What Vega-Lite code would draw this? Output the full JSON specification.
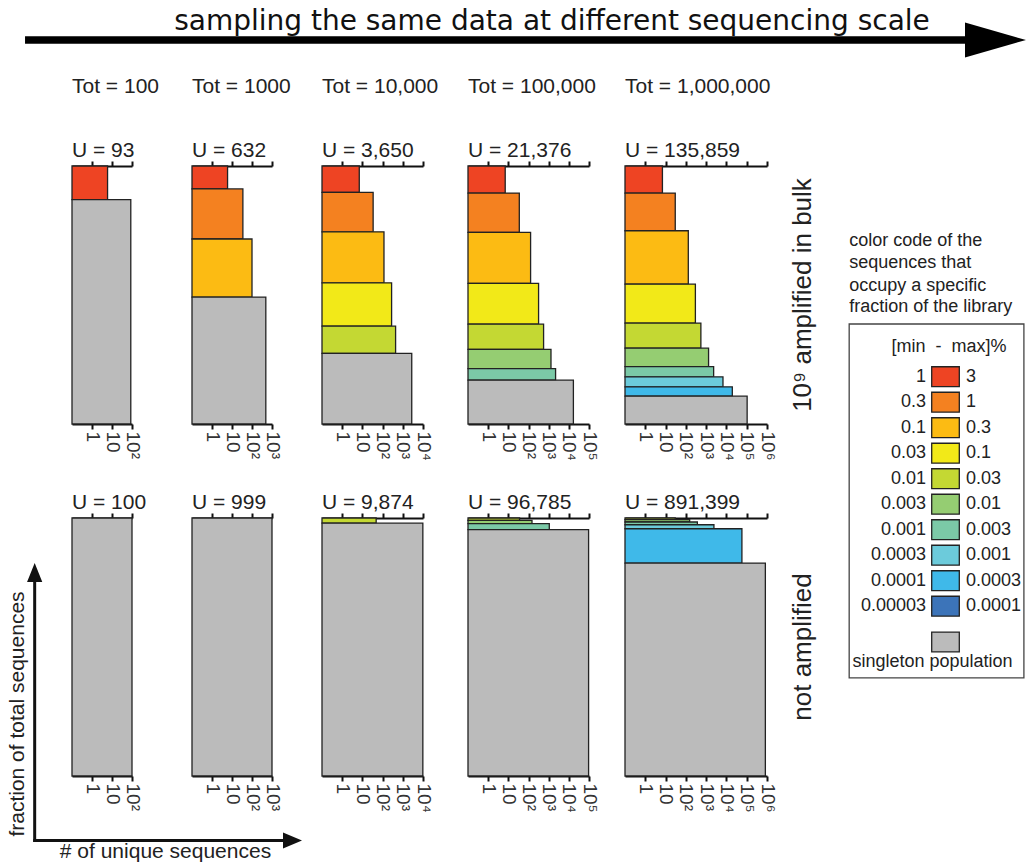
{
  "$schema": "https://vega.github.io/schema/vega-lite/v6.json",
  "padding": 0,
  "background": "white",
  "config": {
    "view": {"stroke": null},
    "font": "Liberation Sans",
    "title": {"anchor": "start", "frame": "group", "fontSize": 21, "fontWeight": "normal", "color": "#222", "font": "Liberation Sans", "subtitleFontSize": 21, "subtitleColor": "#222", "subtitleFont": "Liberation Sans", "subtitlePadding": 43, "offset": -1},
    "axis": {"domainColor": "#111", "domainWidth": 2, "tickColor": "#111", "tickWidth": 2, "tickSize": 5, "grid": false, "labelFontSize": 19, "labelColor": "#333", "labelFlush": false, "labelOverlap": false, "zindex": 1},
    "axisBottom": {"labelAngle": 90, "labelAlign": "left", "labelBaseline": "middle", "labelPadding": 2, "labelExpr": "datum.value < 2 ? '1' : datum.value < 20 ? '10' : '10' + ['', '', '²', '³', '⁴', '⁵', '⁶'][round(log(datum.value) / LN10)]"},
    "axisTop": {"labels": false}
  },
  "datasets": {
    "bars": [
      {"row": "bulk", "tot": 100, "cls": "1–3", "ord": 0, "n": 6, "frac": 0.13},
      {"row": "bulk", "tot": 100, "cls": "singleton", "ord": 10, "n": 87, "frac": 0.87},
      {"row": "bulk", "tot": 1000, "cls": "1–3", "ord": 0, "n": 6, "frac": 0.089},
      {"row": "bulk", "tot": 1000, "cls": "0.3–1", "ord": 1, "n": 35, "frac": 0.194},
      {"row": "bulk", "tot": 1000, "cls": "0.1–0.3", "ord": 2, "n": 100, "frac": 0.225},
      {"row": "bulk", "tot": 1000, "cls": "singleton", "ord": 10, "n": 491, "frac": 0.492},
      {"row": "bulk", "tot": 10000, "cls": "1–3", "ord": 0, "n": 7, "frac": 0.102},
      {"row": "bulk", "tot": 10000, "cls": "0.3–1", "ord": 1, "n": 34, "frac": 0.153},
      {"row": "bulk", "tot": 10000, "cls": "0.1–0.3", "ord": 2, "n": 117, "frac": 0.198},
      {"row": "bulk", "tot": 10000, "cls": "0.03–0.1", "ord": 3, "n": 279, "frac": 0.168},
      {"row": "bulk", "tot": 10000, "cls": "0.01–0.03", "ord": 4, "n": 440, "frac": 0.105},
      {"row": "bulk", "tot": 10000, "cls": "singleton", "ord": 10, "n": 2773, "frac": 0.274},
      {"row": "bulk", "tot": 100000, "cls": "1–3", "ord": 0, "n": 7, "frac": 0.105},
      {"row": "bulk", "tot": 100000, "cls": "0.3–1", "ord": 1, "n": 35, "frac": 0.152},
      {"row": "bulk", "tot": 100000, "cls": "0.1–0.3", "ord": 2, "n": 127, "frac": 0.198},
      {"row": "bulk", "tot": 100000, "cls": "0.03–0.1", "ord": 3, "n": 316, "frac": 0.158},
      {"row": "bulk", "tot": 100000, "cls": "0.01–0.03", "ord": 4, "n": 560, "frac": 0.098},
      {"row": "bulk", "tot": 100000, "cls": "0.003–0.01", "ord": 5, "n": 1303, "frac": 0.074},
      {"row": "bulk", "tot": 100000, "cls": "0.001–0.003", "ord": 6, "n": 2203, "frac": 0.045},
      {"row": "bulk", "tot": 100000, "cls": "singleton", "ord": 10, "n": 16825, "frac": 0.17},
      {"row": "bulk", "tot": 1000000, "cls": "1–3", "ord": 0, "n": 7, "frac": 0.105},
      {"row": "bulk", "tot": 1000000, "cls": "0.3–1", "ord": 1, "n": 30, "frac": 0.146},
      {"row": "bulk", "tot": 1000000, "cls": "0.1–0.3", "ord": 2, "n": 132, "frac": 0.207},
      {"row": "bulk", "tot": 1000000, "cls": "0.03–0.1", "ord": 3, "n": 295, "frac": 0.151},
      {"row": "bulk", "tot": 1000000, "cls": "0.01–0.03", "ord": 4, "n": 550, "frac": 0.097},
      {"row": "bulk", "tot": 1000000, "cls": "0.003–0.01", "ord": 5, "n": 1318, "frac": 0.072},
      {"row": "bulk", "tot": 1000000, "cls": "0.001–0.003", "ord": 6, "n": 2344, "frac": 0.039},
      {"row": "bulk", "tot": 1000000, "cls": "0.0003–0.001", "ord": 7, "n": 6761, "frac": 0.039},
      {"row": "bulk", "tot": 1000000, "cls": "0.0001–0.0003", "ord": 8, "n": 19500, "frac": 0.036},
      {"row": "bulk", "tot": 1000000, "cls": "singleton", "ord": 10, "n": 104922, "frac": 0.108},
      {"row": "none", "tot": 100, "cls": "singleton", "ord": 10, "n": 100, "frac": 1},
      {"row": "none", "tot": 1000, "cls": "singleton", "ord": 10, "n": 999, "frac": 1},
      {"row": "none", "tot": 10000, "cls": "0.01–0.03", "ord": 4, "n": 48, "frac": 0.02},
      {"row": "none", "tot": 10000, "cls": "singleton", "ord": 10, "n": 9826, "frac": 0.98},
      {"row": "none", "tot": 100000, "cls": "0.01–0.03", "ord": 4, "n": 36, "frac": 0.009},
      {"row": "none", "tot": 100000, "cls": "0.003–0.01", "ord": 5, "n": 149, "frac": 0.013},
      {"row": "none", "tot": 100000, "cls": "0.001–0.003", "ord": 6, "n": 1074, "frac": 0.023},
      {"row": "none", "tot": 100000, "cls": "singleton", "ord": 10, "n": 95526, "frac": 0.955},
      {"row": "none", "tot": 1000000, "cls": "0.01–0.03", "ord": 4, "n": 30, "frac": 0.0066},
      {"row": "none", "tot": 1000000, "cls": "0.003–0.01", "ord": 5, "n": 154, "frac": 0.009},
      {"row": "none", "tot": 1000000, "cls": "0.001–0.003", "ord": 6, "n": 369, "frac": 0.0105},
      {"row": "none", "tot": 1000000, "cls": "0.0003–0.001", "ord": 7, "n": 2421, "frac": 0.0155},
      {"row": "none", "tot": 1000000, "cls": "0.0001–0.0003", "ord": 8, "n": 58000, "frac": 0.133},
      {"row": "none", "tot": 1000000, "cls": "singleton", "ord": 10, "n": 830425, "frac": 0.8254}
    ],
    "legendRows": [
      {"cls": "1–3", "lo": "1", "hi": "3", "idx": 0},
      {"cls": "0.3–1", "lo": "0.3", "hi": "1", "idx": 1},
      {"cls": "0.1–0.3", "lo": "0.1", "hi": "0.3", "idx": 2},
      {"cls": "0.03–0.1", "lo": "0.03", "hi": "0.1", "idx": 3},
      {"cls": "0.01–0.03", "lo": "0.01", "hi": "0.03", "idx": 4},
      {"cls": "0.003–0.01", "lo": "0.003", "hi": "0.01", "idx": 5},
      {"cls": "0.001–0.003", "lo": "0.001", "hi": "0.003", "idx": 6},
      {"cls": "0.0003–0.001", "lo": "0.0003", "hi": "0.001", "idx": 7},
      {"cls": "0.0001–0.0003", "lo": "0.0001", "hi": "0.0003", "idx": 8},
      {"cls": "0.00003–0.0001", "lo": "0.00003", "hi": "0.0001", "idx": 9},
      {"cls": "singleton", "lo": "", "hi": "", "idx": 10.404}
    ]
  },
  "columns": 8,
  "spacing": 0,
  "bounds": "flush",
  "align": "each",
  "concat": [
    {
      "width": 72, "height": 166,
      "data": {"values": [
        {"part": "shaft", "x": 0.0244, "x2": 0.95, "y": 0.241},
        {"part": "head", "x": 0.9703, "y": 0.241},
        {"part": "text", "x": 0.538, "y": 0.1807, "t": "sampling the same data at different sequencing scale"}
      ]},
      "layer": [
        {"transform": [{"filter": "datum.part === 'shaft'"}],
         "mark": {"type": "rule", "strokeWidth": 7.5, "color": "#000"},
         "encoding": {
           "x": {"field": "x", "type": "quantitative", "scale": {"domain": [0, 1], "range": [0, 1026], "nice": false, "zero": false}, "axis": null},
           "x2": {"field": "x2"},
           "y": {"field": "y", "type": "quantitative", "scale": {"domain": [0, 1], "range": [0, 166], "nice": false, "zero": false}, "axis": null}}},
        {"transform": [{"filter": "datum.part === 'head'"}],
         "mark": {"type": "point", "shape": "M-1,-0.57L1,0L-1,0.57Z", "size": 3721, "filled": true, "color": "#000", "opacity": 1, "strokeWidth": 0},
         "encoding": {"x": {"field": "x", "type": "quantitative"}, "y": {"field": "y", "type": "quantitative"}}},
        {"transform": [{"filter": "datum.part === 'text'"}],
         "mark": {"type": "text", "font": "DejaVu Sans", "fontSize": 28, "align": "center", "baseline": "alphabetic", "color": "#111"},
         "encoding": {"x": {"field": "x", "type": "quantitative"}, "y": {"field": "y", "type": "quantitative"}, "text": {"field": "t"}}}
      ]
    },
    {"width": 20, "height": 20, "data": {"values": [{"t": ""}]}, "mark": "text", "encoding": {"text": {"field": "t"}}},
    {"width": 20, "height": 20, "data": {"values": [{"t": ""}]}, "mark": "text", "encoding": {"text": {"field": "t"}}},
    {"width": 20, "height": 20, "data": {"values": [{"t": ""}]}, "mark": "text", "encoding": {"text": {"field": "t"}}},
    {"width": 20, "height": 20, "data": {"values": [{"t": ""}]}, "mark": "text", "encoding": {"text": {"field": "t"}}},
    {"width": 20, "height": 20, "data": {"values": [{"t": ""}]}, "mark": "text", "encoding": {"text": {"field": "t"}}},
    {"width": 20, "height": 20, "data": {"values": [{"t": ""}]}, "mark": "text", "encoding": {"text": {"field": "t"}}},
    {"width": 20, "height": 20, "data": {"values": [{"t": ""}]}, "mark": "text", "encoding": {"text": {"field": "t"}}},

    {"width": 20, "height": 20, "data": {"values": [{"t": ""}]}, "mark": "text", "encoding": {"text": {"field": "t"}}},
    {
      "width": 60, "height": 258,
      "title": {"text": "Tot = 100", "subtitle": "U = 93"},
      "data": {"name": "bars"},
      "transform": [{"filter": "datum.row === 'bulk' && datum.tot === 100"}, {"stack": "frac", "groupby": [], "sort": [{"field": "ord", "order": "ascending"}], "as": ["f0", "f1"]}],
      "layer": [
        {"mark": {"type": "bar", "orient": "horizontal", "stroke": "#222", "strokeWidth": 1.3},
         "encoding": {
           "x": {"field": "n", "type": "quantitative", "stack": null, "scale": {"type": "log", "domain": [0.1, 100], "nice": false, "padding": 0}, "axis": {"orient": "bottom", "values": [1, 10, 100], "title": null}},
           "y": {"field": "f0", "type": "quantitative", "scale": {"domain": [0, 1], "reverse": true, "nice": false, "zero": false, "padding": 0}, "axis": null},
           "y2": {"field": "f1"},
           "fill": {"field": "cls", "type": "nominal", "legend": null, "scale": {"domain": ["1–3", "0.3–1", "0.1–0.3", "0.03–0.1", "0.01–0.03", "0.003–0.01", "0.001–0.003", "0.0003–0.001", "0.0001–0.0003", "0.00003–0.0001", "singleton"], "range": ["#ee4423", "#f48120", "#fcbb13", "#f2e918", "#c4d833", "#95cd72", "#7bc9a7", "#6ccbdb", "#3fb9e9", "#3c74b9", "#bbbbbb"]}}}},
        {"mark": {"type": "tick", "opacity": 0},
         "encoding": {"x": {"field": "n", "type": "quantitative", "axis": {"orient": "top", "values": [1, 10, 100], "title": null}}}}
      ],
      "resolve": {"axis": {"x": "independent"}}
    },
    {
      "width": 80, "height": 258,
      "title": {"text": "Tot = 1000", "subtitle": "U = 632"},
      "data": {"name": "bars"},
      "transform": [{"filter": "datum.row === 'bulk' && datum.tot === 1000"}, {"stack": "frac", "groupby": [], "sort": [{"field": "ord", "order": "ascending"}], "as": ["f0", "f1"]}],
      "layer": [
        {"mark": {"type": "bar", "orient": "horizontal", "stroke": "#222", "strokeWidth": 1.3},
         "encoding": {
           "x": {"field": "n", "type": "quantitative", "stack": null, "scale": {"type": "log", "domain": [0.1, 1000], "nice": false, "padding": 0}, "axis": {"orient": "bottom", "values": [1, 10, 100, 1000], "title": null}},
           "y": {"field": "f0", "type": "quantitative", "scale": {"domain": [0, 1], "reverse": true, "nice": false, "zero": false, "padding": 0}, "axis": null},
           "y2": {"field": "f1"},
           "fill": {"field": "cls", "type": "nominal", "legend": null, "scale": {"domain": ["1–3", "0.3–1", "0.1–0.3", "0.03–0.1", "0.01–0.03", "0.003–0.01", "0.001–0.003", "0.0003–0.001", "0.0001–0.0003", "0.00003–0.0001", "singleton"], "range": ["#ee4423", "#f48120", "#fcbb13", "#f2e918", "#c4d833", "#95cd72", "#7bc9a7", "#6ccbdb", "#3fb9e9", "#3c74b9", "#bbbbbb"]}}}},
        {"mark": {"type": "tick", "opacity": 0},
         "encoding": {"x": {"field": "n", "type": "quantitative", "axis": {"orient": "top", "values": [1, 10, 100, 1000], "title": null}}}}
      ],
      "resolve": {"axis": {"x": "independent"}}
    },
    {
      "width": 101, "height": 258,
      "title": {"text": "Tot = 10,000", "subtitle": "U = 3,650"},
      "data": {"name": "bars"},
      "transform": [{"filter": "datum.row === 'bulk' && datum.tot === 10000"}, {"stack": "frac", "groupby": [], "sort": [{"field": "ord", "order": "ascending"}], "as": ["f0", "f1"]}],
      "layer": [
        {"mark": {"type": "bar", "orient": "horizontal", "stroke": "#222", "strokeWidth": 1.3},
         "encoding": {
           "x": {"field": "n", "type": "quantitative", "stack": null, "scale": {"type": "log", "domain": [0.1, 10000], "nice": false, "padding": 0}, "axis": {"orient": "bottom", "values": [1, 10, 100, 1000, 10000], "title": null}},
           "y": {"field": "f0", "type": "quantitative", "scale": {"domain": [0, 1], "reverse": true, "nice": false, "zero": false, "padding": 0}, "axis": null},
           "y2": {"field": "f1"},
           "fill": {"field": "cls", "type": "nominal", "legend": null, "scale": {"domain": ["1–3", "0.3–1", "0.1–0.3", "0.03–0.1", "0.01–0.03", "0.003–0.01", "0.001–0.003", "0.0003–0.001", "0.0001–0.0003", "0.00003–0.0001", "singleton"], "range": ["#ee4423", "#f48120", "#fcbb13", "#f2e918", "#c4d833", "#95cd72", "#7bc9a7", "#6ccbdb", "#3fb9e9", "#3c74b9", "#bbbbbb"]}}}},
        {"mark": {"type": "tick", "opacity": 0},
         "encoding": {"x": {"field": "n", "type": "quantitative", "axis": {"orient": "top", "values": [1, 10, 100, 1000, 10000], "title": null}}}}
      ],
      "resolve": {"axis": {"x": "independent"}}
    },
    {
      "width": 121, "height": 258,
      "title": {"text": "Tot = 100,000", "subtitle": "U = 21,376"},
      "data": {"name": "bars"},
      "transform": [{"filter": "datum.row === 'bulk' && datum.tot === 100000"}, {"stack": "frac", "groupby": [], "sort": [{"field": "ord", "order": "ascending"}], "as": ["f0", "f1"]}],
      "layer": [
        {"mark": {"type": "bar", "orient": "horizontal", "stroke": "#222", "strokeWidth": 1.3},
         "encoding": {
           "x": {"field": "n", "type": "quantitative", "stack": null, "scale": {"type": "log", "domain": [0.1, 100000], "nice": false, "padding": 0}, "axis": {"orient": "bottom", "values": [1, 10, 100, 1000, 10000, 100000], "title": null}},
           "y": {"field": "f0", "type": "quantitative", "scale": {"domain": [0, 1], "reverse": true, "nice": false, "zero": false, "padding": 0}, "axis": null},
           "y2": {"field": "f1"},
           "fill": {"field": "cls", "type": "nominal", "legend": null, "scale": {"domain": ["1–3", "0.3–1", "0.1–0.3", "0.03–0.1", "0.01–0.03", "0.003–0.01", "0.001–0.003", "0.0003–0.001", "0.0001–0.0003", "0.00003–0.0001", "singleton"], "range": ["#ee4423", "#f48120", "#fcbb13", "#f2e918", "#c4d833", "#95cd72", "#7bc9a7", "#6ccbdb", "#3fb9e9", "#3c74b9", "#bbbbbb"]}}}},
        {"mark": {"type": "tick", "opacity": 0},
         "encoding": {"x": {"field": "n", "type": "quantitative", "axis": {"orient": "top", "values": [1, 10, 100, 1000, 10000, 100000], "title": null}}}}
      ],
      "resolve": {"axis": {"x": "independent"}}
    },
    {
      "width": 142, "height": 258,
      "title": {"text": "Tot = 1,000,000", "subtitle": "U = 135,859"},
      "data": {"name": "bars"},
      "transform": [{"filter": "datum.row === 'bulk' && datum.tot === 1000000"}, {"stack": "frac", "groupby": [], "sort": [{"field": "ord", "order": "ascending"}], "as": ["f0", "f1"]}],
      "layer": [
        {"mark": {"type": "bar", "orient": "horizontal", "stroke": "#222", "strokeWidth": 1.3},
         "encoding": {
           "x": {"field": "n", "type": "quantitative", "stack": null, "scale": {"type": "log", "domain": [0.1, 1000000], "nice": false, "padding": 0}, "axis": {"orient": "bottom", "values": [1, 10, 100, 1000, 10000, 100000, 1000000], "title": null}},
           "y": {"field": "f0", "type": "quantitative", "scale": {"domain": [0, 1], "reverse": true, "nice": false, "zero": false, "padding": 0}, "axis": null},
           "y2": {"field": "f1"},
           "fill": {"field": "cls", "type": "nominal", "legend": null, "scale": {"domain": ["1–3", "0.3–1", "0.1–0.3", "0.03–0.1", "0.01–0.03", "0.003–0.01", "0.001–0.003", "0.0003–0.001", "0.0001–0.0003", "0.00003–0.0001", "singleton"], "range": ["#ee4423", "#f48120", "#fcbb13", "#f2e918", "#c4d833", "#95cd72", "#7bc9a7", "#6ccbdb", "#3fb9e9", "#3c74b9", "#bbbbbb"]}}}},
        {"mark": {"type": "tick", "opacity": 0},
         "encoding": {"x": {"field": "n", "type": "quantitative", "axis": {"orient": "top", "values": [1, 10, 100, 1000, 10000, 100000, 1000000], "title": null}}}}
      ],
      "resolve": {"axis": {"x": "independent"}}
    },
    {"width": 26, "height": 258, "data": {"values": [{"t": "10⁹ amplified in bulk"}]}, "mark": {"type": "text", "angle": 270, "fontSize": 26, "color": "#222", "align": "center", "baseline": "middle"}, "encoding": {"text": {"field": "t"}}},
    {
      "width": 210, "height": 258,
      "layer": [
        {"data": {"values": [{"x1": 0.158, "x2": 0.99, "y1": -2.067, "y2": 11.815}]},
         "mark": {"type": "rect", "filled": false, "color": "#444", "strokeWidth": 1.3},
         "encoding": {
           "x": {"field": "x1", "type": "quantitative", "scale": {"domain": [0, 1], "nice": false, "zero": false}, "axis": null},
           "x2": {"field": "x2"},
           "y": {"field": "y1", "type": "quantitative", "scale": {"domain": [-8.263, 1.855], "reverse": true, "nice": false, "zero": false}, "axis": null},
           "y2": {"field": "y2"}}},
        {"data": {"values": [
           {"t": "color code of the", "x": 0.158, "y": -5.334},
           {"t": "sequences that", "x": 0.158, "y": -4.447},
           {"t": "occupy a specific", "x": 0.158, "y": -3.569},
           {"t": "fraction of the library", "x": 0.158, "y": -2.722}]},
         "mark": {"type": "text", "align": "left", "baseline": "middle", "fontSize": 18, "color": "#222"},
         "encoding": {"x": {"field": "x", "type": "quantitative"}, "y": {"field": "y", "type": "quantitative"}, "text": {"field": "t"}}},
        {"data": {"values": [
           {"t": "[min\u00a0 -\u00a0 max]%", "x": 0.633, "y": -1.177},
           {"t": "singleton population", "x": 0.555, "y": 11.176}]},
         "mark": {"type": "text", "align": "center", "baseline": "middle", "fontSize": 18, "color": "#222"},
         "encoding": {"x": {"field": "x", "type": "quantitative"}, "y": {"field": "y", "type": "quantitative"}, "text": {"field": "t"}}},
        {"data": {"name": "legendRows"},
         "mark": {"type": "point", "shape": "M-1,-0.72L1,-0.72L1,0.72L-1,0.72Z", "size": 762, "filled": true, "opacity": 1, "stroke": "#222", "strokeWidth": 1.3},
         "encoding": {
           "x": {"datum": 0.6167, "type": "quantitative"},
           "y": {"field": "idx", "type": "quantitative"},
           "fill": {"field": "cls", "type": "nominal", "legend": null, "scale": {"domain": ["1–3", "0.3–1", "0.1–0.3", "0.03–0.1", "0.01–0.03", "0.003–0.01", "0.001–0.003", "0.0003–0.001", "0.0001–0.0003", "0.00003–0.0001", "singleton"], "range": ["#ee4423", "#f48120", "#fcbb13", "#f2e918", "#c4d833", "#95cd72", "#7bc9a7", "#6ccbdb", "#3fb9e9", "#3c74b9", "#bbbbbb"]}}}},
        {"data": {"name": "legendRows"},
         "mark": {"type": "text", "align": "right", "baseline": "middle", "fontSize": 18, "color": "#222"},
         "encoding": {"x": {"datum": 0.524, "type": "quantitative"}, "y": {"field": "idx", "type": "quantitative"}, "text": {"field": "lo"}}},
        {"data": {"name": "legendRows"},
         "mark": {"type": "text", "align": "left", "baseline": "middle", "fontSize": 18, "color": "#222"},
         "encoding": {"x": {"datum": 0.714, "type": "quantitative"}, "y": {"field": "idx", "type": "quantitative"}, "text": {"field": "hi"}}}
      ]
    },

    {"width": 72, "height": 94, "data": {"values": [{"t": ""}]}, "mark": "text", "encoding": {"text": {"field": "t"}}},
    {"width": 120, "height": 94, "data": {"values": [{"t": ""}]}, "mark": "text", "encoding": {"text": {"field": "t"}}},
    {"width": 130, "height": 94, "data": {"values": [{"t": ""}]}, "mark": "text", "encoding": {"text": {"field": "t"}}},
    {"width": 146, "height": 94, "data": {"values": [{"t": ""}]}, "mark": "text", "encoding": {"text": {"field": "t"}}},
    {"width": 157, "height": 94, "data": {"values": [{"t": ""}]}, "mark": "text", "encoding": {"text": {"field": "t"}}},
    {"width": 165, "height": 94, "data": {"values": [{"t": ""}]}, "mark": "text", "encoding": {"text": {"field": "t"}}},
    {"width": 26, "height": 94, "data": {"values": [{"t": ""}]}, "mark": "text", "encoding": {"text": {"field": "t"}}},
    {"width": 210, "height": 94, "data": {"values": [{"t": ""}]}, "mark": "text", "encoding": {"text": {"field": "t"}}},

    {
      "width": 72, "height": 258,
      "data": {"values": [
        {"part": "v", "x": 0.0338, "y": 0.1657, "y2": 0.9419},
        {"part": "h", "x": 0.0324, "x2": 0.2827, "y": 0.9375},
        {"part": "up", "x": 0.0338, "y": 0.1584},
        {"part": "right", "x": 0.2851, "y": 0.9375},
        {"part": "vt", "x": 0.01784, "y": 0.5698, "t": "fraction of total sequences"},
        {"part": "ht", "x": 0.1613, "y": 0.970, "t": "# of unique sequences"}
      ]},
      "layer": [
        {"transform": [{"filter": "datum.part === 'v'"}],
         "mark": {"type": "rule", "strokeWidth": 3, "color": "#111"},
         "encoding": {
           "x": {"field": "x", "type": "quantitative", "scale": {"domain": [0, 1], "range": [0, 1026], "nice": false, "zero": false}, "axis": null},
           "y": {"field": "y", "type": "quantitative", "scale": {"domain": [0, 1], "range": [0, 344], "nice": false, "zero": false}, "axis": null},
           "y2": {"field": "y2"}}},
        {"transform": [{"filter": "datum.part === 'h'"}],
         "mark": {"type": "rule", "strokeWidth": 3, "color": "#111"},
         "encoding": {"x": {"field": "x", "type": "quantitative"}, "x2": {"field": "x2"}, "y": {"field": "y", "type": "quantitative"}}},
        {"transform": [{"filter": "datum.part === 'up'"}],
         "mark": {"type": "point", "shape": "M0,-1L0.8,1L-0.8,1Z", "size": 361, "filled": true, "color": "#111", "opacity": 1, "strokeWidth": 0},
         "encoding": {"x": {"field": "x", "type": "quantitative"}, "y": {"field": "y", "type": "quantitative"}}},
        {"transform": [{"filter": "datum.part === 'right'"}],
         "mark": {"type": "point", "shape": "M1,0L-1,-0.84L-1,0.84Z", "size": 361, "filled": true, "color": "#111", "opacity": 1, "strokeWidth": 0},
         "encoding": {"x": {"field": "x", "type": "quantitative"}, "y": {"field": "y", "type": "quantitative"}}},
        {"transform": [{"filter": "datum.part === 'vt'"}],
         "mark": {"type": "text", "angle": 270, "fontSize": 21, "align": "center", "baseline": "middle", "color": "#222"},
         "encoding": {"x": {"field": "x", "type": "quantitative"}, "y": {"field": "y", "type": "quantitative"}, "text": {"field": "t"}}},
        {"transform": [{"filter": "datum.part === 'ht'"}],
         "mark": {"type": "text", "fontSize": 21, "align": "center", "baseline": "middle", "color": "#222"},
         "encoding": {"x": {"field": "x", "type": "quantitative"}, "y": {"field": "y", "type": "quantitative"}, "text": {"field": "t"}}}
      ]
    },
    {
      "width": 60, "height": 258,
      "title": {"text": "U = 100"},
      "data": {"name": "bars"},
      "transform": [{"filter": "datum.row === 'none' && datum.tot === 100"}, {"stack": "frac", "groupby": [], "sort": [{"field": "ord", "order": "ascending"}], "as": ["f0", "f1"]}],
      "layer": [
        {"mark": {"type": "bar", "orient": "horizontal", "stroke": "#222", "strokeWidth": 1.3},
         "encoding": {
           "x": {"field": "n", "type": "quantitative", "stack": null, "scale": {"type": "log", "domain": [0.1, 100], "nice": false, "padding": 0}, "axis": {"orient": "bottom", "values": [1, 10, 100], "title": null}},
           "y": {"field": "f0", "type": "quantitative", "scale": {"domain": [0, 1], "reverse": true, "nice": false, "zero": false, "padding": 0}, "axis": null},
           "y2": {"field": "f1"},
           "fill": {"field": "cls", "type": "nominal", "legend": null, "scale": {"domain": ["1–3", "0.3–1", "0.1–0.3", "0.03–0.1", "0.01–0.03", "0.003–0.01", "0.001–0.003", "0.0003–0.001", "0.0001–0.0003", "0.00003–0.0001", "singleton"], "range": ["#ee4423", "#f48120", "#fcbb13", "#f2e918", "#c4d833", "#95cd72", "#7bc9a7", "#6ccbdb", "#3fb9e9", "#3c74b9", "#bbbbbb"]}}}},
        {"mark": {"type": "tick", "opacity": 0},
         "encoding": {"x": {"field": "n", "type": "quantitative", "axis": {"orient": "top", "values": [1, 10, 100], "title": null}}}}
      ],
      "resolve": {"axis": {"x": "independent"}}
    },
    {
      "width": 80, "height": 258,
      "title": {"text": "U = 999"},
      "data": {"name": "bars"},
      "transform": [{"filter": "datum.row === 'none' && datum.tot === 1000"}, {"stack": "frac", "groupby": [], "sort": [{"field": "ord", "order": "ascending"}], "as": ["f0", "f1"]}],
      "layer": [
        {"mark": {"type": "bar", "orient": "horizontal", "stroke": "#222", "strokeWidth": 1.3},
         "encoding": {
           "x": {"field": "n", "type": "quantitative", "stack": null, "scale": {"type": "log", "domain": [0.1, 1000], "nice": false, "padding": 0}, "axis": {"orient": "bottom", "values": [1, 10, 100, 1000], "title": null}},
           "y": {"field": "f0", "type": "quantitative", "scale": {"domain": [0, 1], "reverse": true, "nice": false, "zero": false, "padding": 0}, "axis": null},
           "y2": {"field": "f1"},
           "fill": {"field": "cls", "type": "nominal", "legend": null, "scale": {"domain": ["1–3", "0.3–1", "0.1–0.3", "0.03–0.1", "0.01–0.03", "0.003–0.01", "0.001–0.003", "0.0003–0.001", "0.0001–0.0003", "0.00003–0.0001", "singleton"], "range": ["#ee4423", "#f48120", "#fcbb13", "#f2e918", "#c4d833", "#95cd72", "#7bc9a7", "#6ccbdb", "#3fb9e9", "#3c74b9", "#bbbbbb"]}}}},
        {"mark": {"type": "tick", "opacity": 0},
         "encoding": {"x": {"field": "n", "type": "quantitative", "axis": {"orient": "top", "values": [1, 10, 100, 1000], "title": null}}}}
      ],
      "resolve": {"axis": {"x": "independent"}}
    },
    {
      "width": 101, "height": 258,
      "title": {"text": "U = 9,874"},
      "data": {"name": "bars"},
      "transform": [{"filter": "datum.row === 'none' && datum.tot === 10000"}, {"stack": "frac", "groupby": [], "sort": [{"field": "ord", "order": "ascending"}], "as": ["f0", "f1"]}],
      "layer": [
        {"mark": {"type": "bar", "orient": "horizontal", "stroke": "#222", "strokeWidth": 1.3},
         "encoding": {
           "x": {"field": "n", "type": "quantitative", "stack": null, "scale": {"type": "log", "domain": [0.1, 10000], "nice": false, "padding": 0}, "axis": {"orient": "bottom", "values": [1, 10, 100, 1000, 10000], "title": null}},
           "y": {"field": "f0", "type": "quantitative", "scale": {"domain": [0, 1], "reverse": true, "nice": false, "zero": false, "padding": 0}, "axis": null},
           "y2": {"field": "f1"},
           "fill": {"field": "cls", "type": "nominal", "legend": null, "scale": {"domain": ["1–3", "0.3–1", "0.1–0.3", "0.03–0.1", "0.01–0.03", "0.003–0.01", "0.001–0.003", "0.0003–0.001", "0.0001–0.0003", "0.00003–0.0001", "singleton"], "range": ["#ee4423", "#f48120", "#fcbb13", "#f2e918", "#c4d833", "#95cd72", "#7bc9a7", "#6ccbdb", "#3fb9e9", "#3c74b9", "#bbbbbb"]}}}},
        {"mark": {"type": "tick", "opacity": 0},
         "encoding": {"x": {"field": "n", "type": "quantitative", "axis": {"orient": "top", "values": [1, 10, 100, 1000, 10000], "title": null}}}}
      ],
      "resolve": {"axis": {"x": "independent"}}
    },
    {
      "width": 121, "height": 258,
      "title": {"text": "U = 96,785"},
      "data": {"name": "bars"},
      "transform": [{"filter": "datum.row === 'none' && datum.tot === 100000"}, {"stack": "frac", "groupby": [], "sort": [{"field": "ord", "order": "ascending"}], "as": ["f0", "f1"]}],
      "layer": [
        {"mark": {"type": "bar", "orient": "horizontal", "stroke": "#222", "strokeWidth": 1.3},
         "encoding": {
           "x": {"field": "n", "type": "quantitative", "stack": null, "scale": {"type": "log", "domain": [0.1, 100000], "nice": false, "padding": 0}, "axis": {"orient": "bottom", "values": [1, 10, 100, 1000, 10000, 100000], "title": null}},
           "y": {"field": "f0", "type": "quantitative", "scale": {"domain": [0, 1], "reverse": true, "nice": false, "zero": false, "padding": 0}, "axis": null},
           "y2": {"field": "f1"},
           "fill": {"field": "cls", "type": "nominal", "legend": null, "scale": {"domain": ["1–3", "0.3–1", "0.1–0.3", "0.03–0.1", "0.01–0.03", "0.003–0.01", "0.001–0.003", "0.0003–0.001", "0.0001–0.0003", "0.00003–0.0001", "singleton"], "range": ["#ee4423", "#f48120", "#fcbb13", "#f2e918", "#c4d833", "#95cd72", "#7bc9a7", "#6ccbdb", "#3fb9e9", "#3c74b9", "#bbbbbb"]}}}},
        {"mark": {"type": "tick", "opacity": 0},
         "encoding": {"x": {"field": "n", "type": "quantitative", "axis": {"orient": "top", "values": [1, 10, 100, 1000, 10000, 100000], "title": null}}}}
      ],
      "resolve": {"axis": {"x": "independent"}}
    },
    {
      "width": 142, "height": 258,
      "title": {"text": "U = 891,399"},
      "data": {"name": "bars"},
      "transform": [{"filter": "datum.row === 'none' && datum.tot === 1000000"}, {"stack": "frac", "groupby": [], "sort": [{"field": "ord", "order": "ascending"}], "as": ["f0", "f1"]}],
      "layer": [
        {"mark": {"type": "bar", "orient": "horizontal", "stroke": "#222", "strokeWidth": 1.3},
         "encoding": {
           "x": {"field": "n", "type": "quantitative", "stack": null, "scale": {"type": "log", "domain": [0.1, 1000000], "nice": false, "padding": 0}, "axis": {"orient": "bottom", "values": [1, 10, 100, 1000, 10000, 100000, 1000000], "title": null}},
           "y": {"field": "f0", "type": "quantitative", "scale": {"domain": [0, 1], "reverse": true, "nice": false, "zero": false, "padding": 0}, "axis": null},
           "y2": {"field": "f1"},
           "fill": {"field": "cls", "type": "nominal", "legend": null, "scale": {"domain": ["1–3", "0.3–1", "0.1–0.3", "0.03–0.1", "0.01–0.03", "0.003–0.01", "0.001–0.003", "0.0003–0.001", "0.0001–0.0003", "0.00003–0.0001", "singleton"], "range": ["#ee4423", "#f48120", "#fcbb13", "#f2e918", "#c4d833", "#95cd72", "#7bc9a7", "#6ccbdb", "#3fb9e9", "#3c74b9", "#bbbbbb"]}}}},
        {"mark": {"type": "tick", "opacity": 0},
         "encoding": {"x": {"field": "n", "type": "quantitative", "axis": {"orient": "top", "values": [1, 10, 100, 1000, 10000, 100000, 1000000], "title": null}}}}
      ],
      "resolve": {"axis": {"x": "independent"}}
    },
    {"width": 26, "height": 258, "data": {"values": [{"t": "not amplified"}]}, "mark": {"type": "text", "angle": 270, "fontSize": 26, "color": "#222", "align": "center", "baseline": "middle"}, "encoding": {"text": {"field": "t"}}}
  ]
}
